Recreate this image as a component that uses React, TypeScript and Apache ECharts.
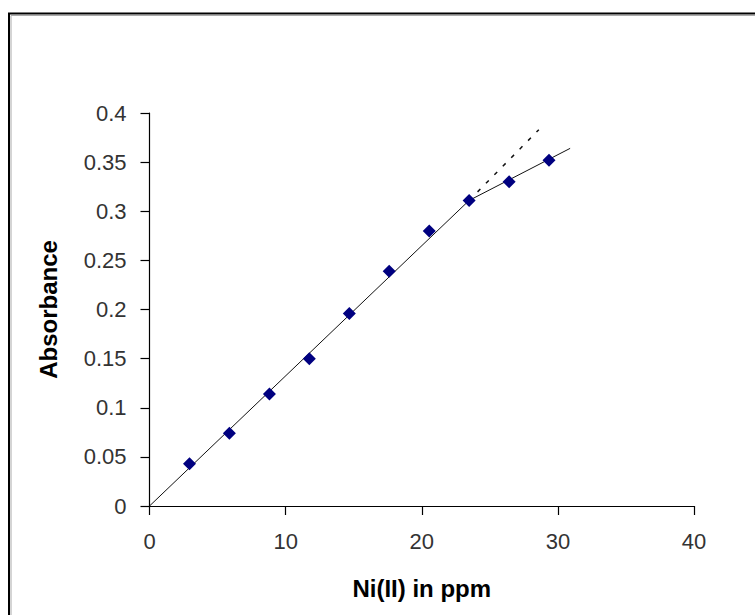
import React, { useEffect, useRef } from "react";
import * as echarts from "echarts";

// Concentration of Ni(II) in ppm
const concentrations = [2.94, 5.87, 8.81, 11.74, 14.68, 17.61, 20.55, 23.48, 26.42, 29.35];
// Measured absorbance
const absorbances = [0.043, 0.074, 0.114, 0.15, 0.196, 0.239, 0.28, 0.311, 0.33, 0.352];

// Linear fit through the origin up to the break point
const linearFitX = [0, 23.48];
const linearFitY = [0, 0.311];
// Extrapolation of the linear range (dashed)
const extrapolationX = [23.48, 28.6];
const extrapolationY = [0.311, 0.383];
// Fit of the deviating range
const deviationX = [23.48, 30.9];
const deviationY = [0.311, 0.364];

const xTicks = { min: 0, max: 40, interval: 10 };
const yTicks = { min: 0, max: 0.4, interval: 0.05 };

const pairs = (xs: number[], ys: number[]) => xs.map((x, i) => [x, ys[i]]);

export default function App() {
  const ref = useRef<HTMLDivElement>(null);

  useEffect(() => {
    if (!ref.current) return;
    const chart = echarts.init(ref.current, undefined, { renderer: "svg" });
    const font = "'Liberation Sans', Arial, sans-serif";
    chart.setOption({
      animation: false,
      backgroundColor: "#ffffff",
      textStyle: { fontFamily: font },
      graphic: [
        {
          type: "rect",
          shape: { x: 9, y: 13.5, width: 800, height: 700 },
          style: { fill: "none", stroke: "#000", lineWidth: 2 },
          silent: true,
        },
        {
          type: "rect",
          shape: { x: 11, y: 15.5, width: 800, height: 700 },
          style: { fill: "none", stroke: "#aaa", lineWidth: 1 },
          silent: true,
        },
      ],
      grid: {
        left: 149.5,
        right: 61,
        top: 113,
        bottom: 109,
        outerBoundsMode: "none",
      },
      xAxis: {
        type: "value",
        min: xTicks.min,
        max: xTicks.max,
        interval: xTicks.interval,
        name: "Ni(II) in ppm",
        nameLocation: "middle",
        nameGap: 82,
        nameTextStyle: {
          fontFamily: font,
          fontSize: 24,
          fontWeight: "bold",
          color: "#000",
          verticalAlign: "middle",
        },
        axisLine: { show: true, onZero: false, lineStyle: { color: "#000", width: 1.2 } },
        axisTick: { show: true, length: 9, lineStyle: { color: "#000", width: 1.2 } },
        axisLabel: { fontFamily: font, fontSize: 22, color: "#333", margin: 24 },
        splitLine: { show: false },
      },
      yAxis: {
        type: "value",
        min: yTicks.min,
        max: yTicks.max,
        interval: yTicks.interval,
        name: "Absorbance",
        nameLocation: "middle",
        nameGap: 101,
        nameRotate: 90,
        nameTextStyle: {
          fontFamily: font,
          fontSize: 24,
          fontWeight: "bold",
          color: "#000",
          verticalAlign: "middle",
        },
        axisLine: { show: true, onZero: false, lineStyle: { color: "#000", width: 1.2 } },
        axisTick: { show: true, length: 9, lineStyle: { color: "#000", width: 1.2 } },
        axisLabel: { fontFamily: font, fontSize: 22, color: "#333", margin: 23 },
        splitLine: { show: false },
      },
      series: [
        {
          type: "line",
          data: pairs(linearFitX, linearFitY),
          showSymbol: false,
          lineStyle: { color: "#111", width: 1 },
          silent: true,
          z: 1,
        },
        {
          type: "line",
          data: pairs(extrapolationX, extrapolationY),
          showSymbol: false,
          lineStyle: { color: "#111", width: 1.5, type: [4, 8] },
          silent: true,
          z: 1,
        },
        {
          type: "line",
          data: pairs(deviationX, deviationY),
          showSymbol: false,
          lineStyle: { color: "#111", width: 1 },
          silent: true,
          z: 1,
        },
        {
          type: "scatter",
          data: pairs(concentrations, absorbances),
          symbol: "diamond",
          symbolSize: 13,
          itemStyle: { color: "#000080", opacity: 1 },
          z: 3,
        },
      ],
    });
    return () => chart.dispose();
  }, []);

  return (
    <div
      ref={ref}
      style={{ position: "fixed", left: 0, top: 0, width: 755, height: 615 }}
    />
  );
}
